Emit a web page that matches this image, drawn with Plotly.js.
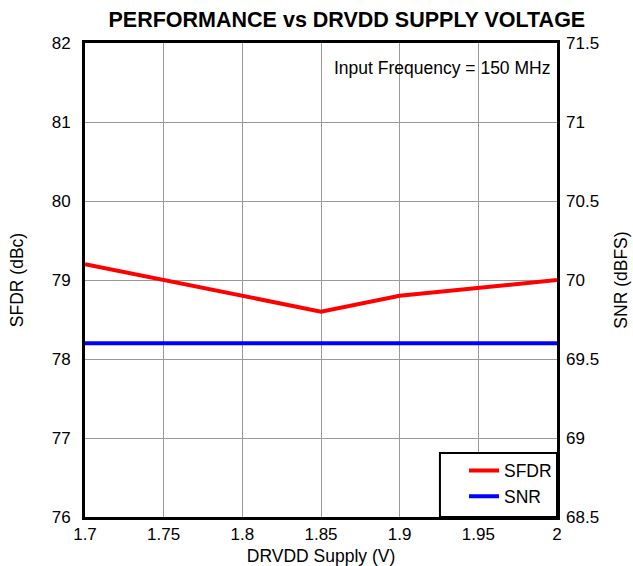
<!DOCTYPE html>
<html>
<head>
<meta charset="utf-8">
<script src="https://cdn.plot.ly/plotly-3.0.1.min.js"></script>
<style>html,body{margin:0;padding:0;background:#fff;}#chart{width:633px;height:566px;}</style>
</head>
<body>
<div id="chart"></div>
<script>
var supplyV = [1.7, 1.75, 1.8, 1.85, 1.9, 1.95, 2.0];
var sfdr = [79.2, 79.0, 78.8, 78.6, 78.8, 78.9, 79.0];
var snr = [69.6, 69.6, 69.6, 69.6, 69.6, 69.6, 69.6];
var xTicks = [1.7, 1.75, 1.8, 1.85, 1.9, 1.95, 2];
var xTickText = ["1.7", "1.75", "1.8", "1.85", "1.9", "1.95", "2"];
var yLeftTicks = [76, 77, 78, 79, 80, 81, 82];
var yRightTicks = [68.5, 69, 69.5, 70, 70.5, 71, 71.5];

var FONT = "Liberation Sans, Arial, sans-serif";

var traces = [
  {x: supplyV, y: sfdr, name: "SFDR", type: "scatter", mode: "lines",
   line: {color: "#ff0000", width: 4}, yaxis: "y"},
  {x: supplyV, y: snr, name: "SNR", type: "scatter", mode: "lines",
   line: {color: "#0000ff", width: 4}, yaxis: "y2"}
];

var layout = {
  width: 633, height: 566,
  margin: {l: 85, r: 76, t: 43, b: 49},
  paper_bgcolor: "#fff", plot_bgcolor: "#fff",
  font: {family: FONT, size: 17, color: "#000"},
  title: {text: "<b>PERFORMANCE vs DRVDD SUPPLY VOLTAGE</b>", font: {family: FONT, size: 21.5, color: "#000"},
          x: 0.548, xanchor: "center", y: 0.966, yanchor: "middle"},
  xaxis: {range: [1.7, 2], tickvals: xTicks, ticktext: xTickText, showgrid: true,
          gridcolor: "#999", gridwidth: 1, zeroline: false, showline: true, linecolor: "#000",
          linewidth: 3, mirror: true, ticks: "", ticklen: 0,
          title: {text: "DRVDD Supply (V)", font: {family: FONT, size: 17.5}, standoff: 8},
          tickfont: {family: FONT, size: 17}},
  yaxis: {range: [76, 82], tickvals: yLeftTicks, showgrid: true, gridcolor: "#999",
          gridwidth: 1, zeroline: false, showline: true, linecolor: "#000", linewidth: 3,
          mirror: true, ticks: "", ticklen: 0, ticklabelstandoff: 8,
          title: {text: "SFDR (dBc)", font: {family: FONT, size: 17.5}, standoff: 24},
          tickfont: {family: FONT, size: 17}},
  yaxis2: {range: [68.5, 71.5], tickvals: yRightTicks, overlaying: "y", side: "right",
           showgrid: false, zeroline: false, showline: false, ticks: "", ticklabelstandoff: 8,
           title: {text: "SNR (dBFS)", font: {family: FONT, size: 17.5}, standoff: 16},
           tickfont: {family: FONT, size: 17}},
  showlegend: true,
  legend: {x: 1, xanchor: "right", y: 0.005, yanchor: "bottom", bgcolor: "rgba(0,0,0,0)",
           borderwidth: 0, font: {family: FONT, size: 17.5},
           tracegroupgap: 0, itemwidth: 30},
  shapes: [
    {type: "rect", xref: "paper", yref: "paper", x0: 0.508, x1: 1, y0: 0.908, y1: 1,
     fillcolor: "#fff", line: {width: 0}, layer: "between"},
    {type: "rect", xref: "paper", yref: "paper", x0: 0.752, x1: 1, y0: 0, y1: 0.135,
     fillcolor: "#fff", line: {color: "#000", width: 2}, layer: "above"}
  ],
  annotations: [
    {text: "Input Frequency = 150 MHz", xref: "paper", yref: "paper", x: 0.99, y: 0.948,
     xanchor: "right", yanchor: "middle", showarrow: false, font: {family: FONT, size: 17.5, color: "#000"}}
  ]
};

Plotly.newPlot("chart", traces, layout, {displayModeBar: false, staticPlot: true});
</script>
</body>
</html>
